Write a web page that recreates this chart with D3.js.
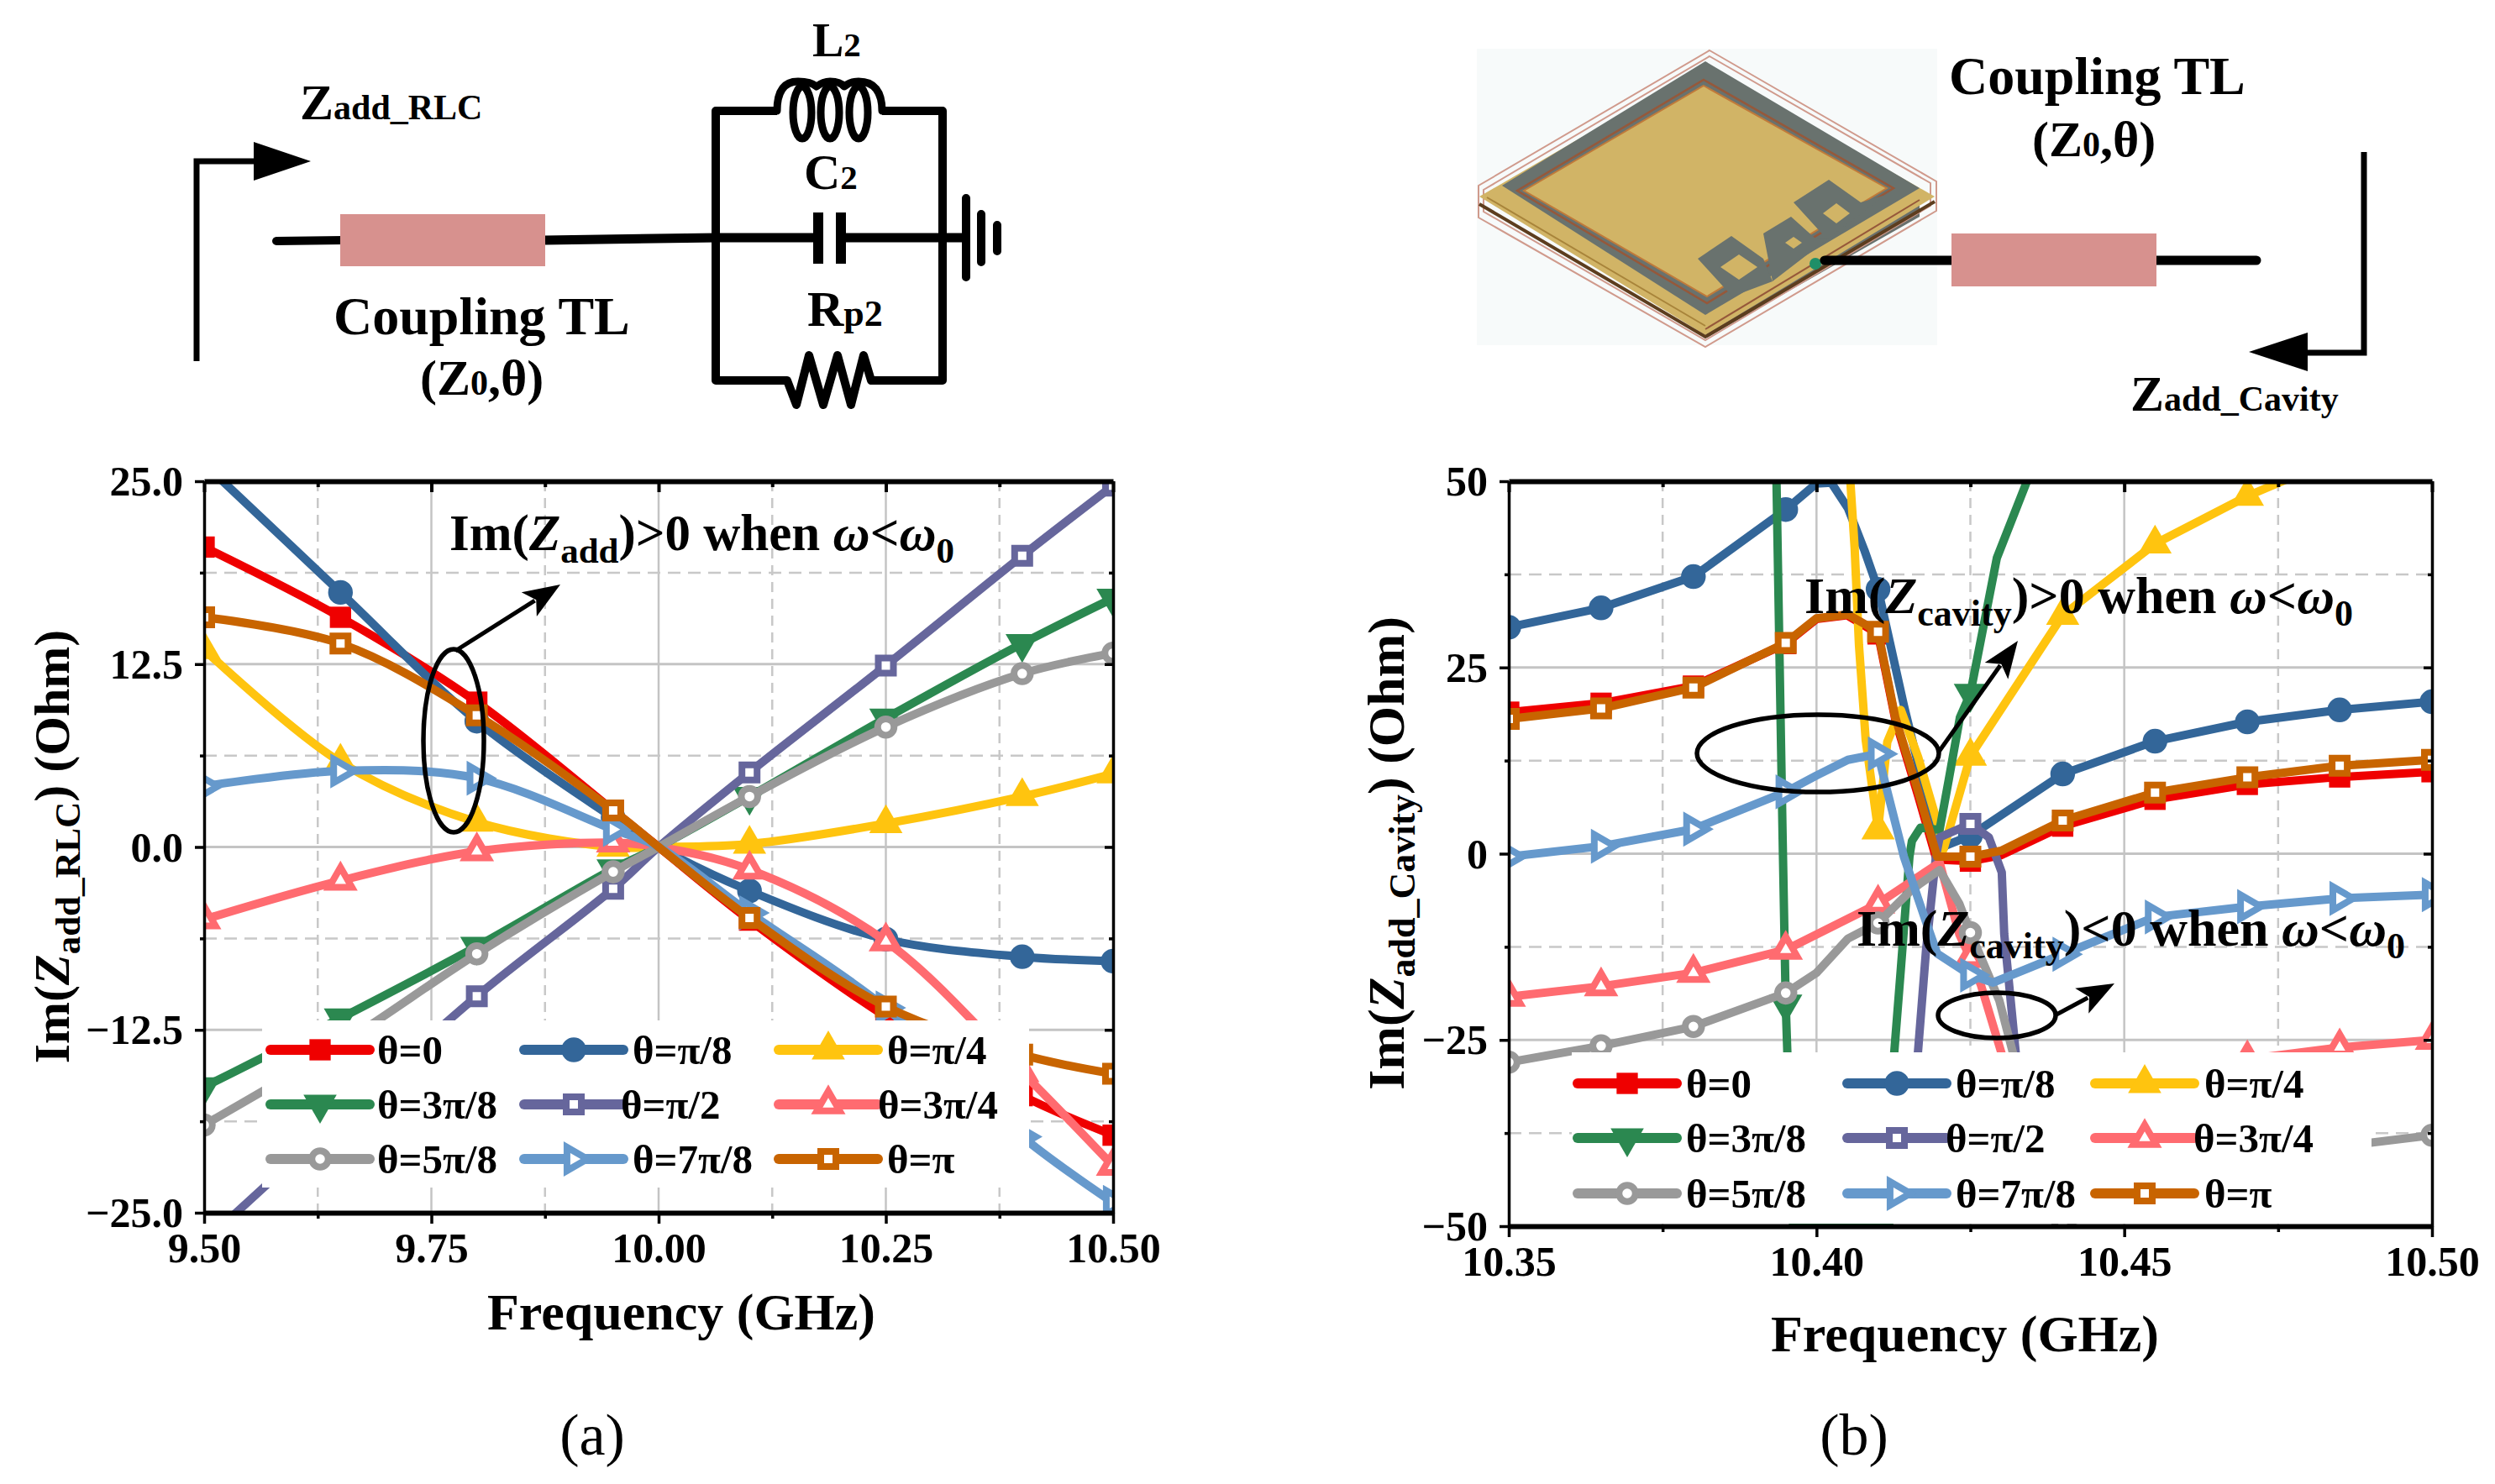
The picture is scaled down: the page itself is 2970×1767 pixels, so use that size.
<!DOCTYPE html>
<html><head><meta charset="utf-8">
<script src="https://cdnjs.cloudflare.com/ajax/libs/d3/7.8.5/d3.min.js"></script>
<style>html,body{margin:0;padding:0;background:#fff}svg{display:block}
text{font-family:"Liberation Serif","Times New Roman",serif;fill:#000}</style></head><body>
<svg id="c" width="2970" height="1767" viewBox="0 0 2970 1767"></svg>
<script>
// ---------- Panel (a) data ----------
const freqA = [9.5,9.65,9.8,9.95,10,10.1,10.25,10.4,10.5];
const a0     = [20.5,15.7,9.9,2.5,0,-5.0,-11.6,-17.0,-19.7];
const aPi8   = [26.2,17.4,8.6,2.0,0,-3.0,-6.3,-7.5,-7.8];
const aPi4   = [13.5,5.8,1.7,0.0,0,0.2,1.6,3.45,5.0];
const a3Pi8  = [-16.4,-11.7,-6.8,-1.5,0,3.45,8.8,13.9,17.0];
const aPi2   = [-27,-18.5,-10.2,-2.85,0,5.1,12.4,19.9,24.7];
const a3Pi4  = [-4.95,-2.3,-0.3,0.3,0,-1.55,-6.45,-15.4,-21.8];
const a5Pi8  = [-19.0,-13.5,-7.3,-1.7,0,3.45,8.2,11.85,13.25];
const a7Pi8  = [4.15,5.2,4.7,1.2,0,-4.5,-11.0,-19.8,-24.3];
const aPi    = [15.7,13.9,9.0,2.5,0,-4.85,-10.9,-14.2,-15.5];
const markerFreqA = [9.5,9.65,9.8,9.95,10.1,10.25,10.4,10.5];

// ---------- Panel (b) data ----------
const markerFreqB = [10.35,10.365,10.38,10.395,10.41,10.425,10.44,10.455,10.47,10.485,10.5];
const f0B = [10.35,10.365,10.38,10.395,10.4,10.405,10.41,10.4128,10.4165,10.4195,10.425,10.43,10.44,10.455,10.47,10.485,10.5];
const b0  = [19,20.2,22.5,28.2,31.5,32,29.5,18,7.8,-0.8,-1,-0.2,3.7,7.3,9.3,10.3,11];
const fPi8B = [10.35,10.365,10.38,10.395,10.4,10.4024,10.4051,10.4078,10.41,10.4142,10.42,10.421,10.425,10.44,10.455,10.47,10.485,10.5];
const bPi8  = [30.4,33,37.2,46.2,49.7,49.8,46.4,40.7,35.5,19.9,0.1,1.1,2.4,10.7,15.1,17.7,19.3,20.4];
const fPi4B = [10.4055,10.4062,10.4069,10.408,10.41,10.4115,10.4137,10.4165,10.4198,10.4206,10.425,10.44,10.455,10.47,10.4785];
const bPi4  = [50,41,28,15.2,3.2,15,19.3,13,3.7,0.5,13.1,32,41.6,48,51];
const f3Pi8B = [10.392,10.3935,10.3945,10.395,10.3962,10.4118,10.4126,10.4137,10.4151,10.4155,10.4169,10.42,10.4215,10.4233,10.425,10.4293,10.4342];
const b3Pi8  = [75,50,2,-20.2,-50,-50,-27,-15.5,-0.4,1.7,3.5,3.2,10,18.3,21.5,39.7,50];
const fPi2B = [10.415,10.41645,10.4178,10.4194,10.42,10.425,10.428,10.4301,10.4305,10.4317,10.4324,10.434];
const bPi2  = [-45,-27,-12.9,-0.4,2.2,4,2.2,-2.5,-10.8,-21,-27,-45];
const f3Pi4B = [10.35,10.365,10.38,10.395,10.41,10.42,10.4232,10.425,10.4267,10.4301,10.44,10.455,10.47,10.485,10.5];
const b3Pi4  = [-19.2,-17.8,-16.0,-12.9,-6.7,-1.2,-10.8,-14,-17.6,-26.9,-45,-33,-27.6,-26,-25];
const f5Pi8B = [10.35,10.365,10.38,10.395,10.4,10.4051,10.41,10.4155,10.42,10.4232,10.425,10.4297,10.432,10.44,10.455,10.47,10.485,10.5];
const b5Pi8  = [-28,-25.8,-23.2,-18.7,-16,-11.4,-9.3,-4.8,-2.2,-6.7,-10.6,-19.7,-27,-50,-44,-41,-39.3,-37.8];
const f7Pi8B = [10.35,10.365,10.38,10.395,10.4,10.4051,10.41,10.411,10.4142,10.4174,10.4196,10.425,10.4287,10.44,10.455,10.47,10.485,10.5];
const b7Pi8  = [-0.4,1,3.3,8.3,10.5,12.6,13.4,10,-0.4,-8.2,-13.4,-16.3,-17.3,-13.5,-8.5,-7.1,-6,-5.5];
const fPiB = [10.35,10.365,10.38,10.395,10.4,10.4051,10.41,10.4128,10.4165,10.4196,10.425,10.43,10.44,10.455,10.47,10.485,10.5];
const bPi  = [18.1,19.5,22.3,28.3,31.6,32.1,29.8,18.3,8.4,-0.4,-0.4,0.4,4.45,8.2,10.25,11.8,12.6];

// ---------- Labels and style tables ----------
const labels = ["θ=0","θ=π/8","θ=π/4","θ=3π/8","θ=π/2","θ=3π/4","θ=5π/8","θ=7π/8","θ=π"];
const colors = ["#ef0000","#336699","#ffc40f","#2b8850","#66669c","#ff6b70","#999999","#6699cc","#c86400"];
const shapes = ["square","circle","up","down","osquare","oup","ocircle","oright","osquare"];
const xTicksA = ["9.50","9.75","10.00","10.25","10.50"];
const yTicksA = ["25.0","12.5","0.0","−12.5","−25.0"];
const xTicksB = ["10.35","10.40","10.45","10.50"];
const yTicksB = ["50","25","0","−25","−50"];

const svg = d3.select("#c");
svg.append("rect").attr("width",2970).attr("height",1767).attr("fill","#fff");
const F = "Liberation Serif";

function txt(g,x,y,size,parts,opt={}){
  const t = g.append("text").attr("x",x).attr("y",y).attr("font-size",size)
    .attr("font-weight",opt.weight||"bold").attr("text-anchor",opt.anchor||"start");
  if(opt.rotate) t.attr("transform",`rotate(${opt.rotate} ${x} ${y})`);
  let shift=0;
  (Array.isArray(parts)?parts:[parts]).forEach(p=>{
    if(typeof p==="string") p={t:p};
    const sz=p.size||size, base=p.dy||0;
    t.append("tspan").attr("dy",base-shift).attr("font-size",sz)
      .attr("font-style",p.i?"italic":"normal").text(p.t);
    shift=base;
  });
  return t;
}

function marker(g,shape,color,x,y){
  const s = g.append("path");
  const open = shape[0]==="o";
  const kind = open?shape.slice(1):shape;
  let sym,area,rot=0;
  if(kind==="square"){sym=d3.symbolSquare;area=open?324:640;}
  if(kind==="circle"){sym=d3.symbolCircle;area=open?300:680;}
  if(kind==="up"){sym=d3.symbolTriangle;area=open?320:680;}
  if(kind==="down"){sym=d3.symbolTriangle;area=680;rot=180;}
  if(kind==="right"){sym=d3.symbolTriangle;area=340;rot=90;}
  s.attr("d",d3.symbol().type(sym).size(area)());
  s.attr("transform",`translate(${x},${y}) rotate(${rot})`);
  s.attr("fill",open?"#fff":color).attr("stroke",color).attr("stroke-width",open?8:0)
   .attr("stroke-linejoin","miter");
}

function panel(o){
  const g = svg.append("g");
  const x = d3.scaleLinear().domain(o.xd).range([o.l,o.r]);
  const y = d3.scaleLinear().domain(o.yd).range([o.b,o.t]);
  const id = "clip"+o.name;
  svg.append("clipPath").attr("id",id).append("rect")
    .attr("x",o.l).attr("y",o.t).attr("width",o.r-o.l).attr("height",o.b-o.t);

  // grids
  const gg = g.append("g");
  o.xGrid.forEach(v=>{ if(v===o.xd[0]||v===o.xd[1])return;
    const major = o.xMajor.includes(v);
    gg.append("line").attr("x1",x(v)).attr("x2",x(v)).attr("y1",o.t).attr("y2",o.b)
      .attr("stroke",major?"#c4c4c4":"#c8c8c8").attr("stroke-width",major?2.5:2.5)
      .attr("stroke-dasharray",major?null:"12 8");
  });
  o.yGrid.forEach(v=>{ if(v===o.yd[0]||v===o.yd[1])return;
    const major = o.yMajor.includes(v);
    gg.append("line").attr("x1",o.l).attr("x2",o.r).attr("y1",y(v)).attr("y2",y(v))
      .attr("stroke",major?"#c4c4c4":"#c8c8c8").attr("stroke-width",major?3:2.5)
      .attr("stroke-dasharray",major?null:"15 9");
  });

  // series
  const cg = g.append("g").attr("clip-path",`url(#${id})`);
  const line = d3.line().x(d=>x(d[0])).y(d=>y(d[1])).curve(o.curve);
  o.series.forEach((s,i)=>{
    const pts = d3.zip(s.f,s.v);
    cg.append("path").attr("d",line(pts)).attr("fill","none").attr("stroke",colors[i])
      .attr("stroke-width",o.lw).attr("stroke-linejoin","round");
    pts.filter(p=>o.markers.includes(p[0])).forEach(p=>marker(cg,shapes[i],colors[i],x(p[0]),y(p[1])));
  });

  // legend
  const lg = g.append("g");
  lg.append("rect").attr("x",o.leg.x).attr("y",o.leg.y).attr("width",o.leg.w).attr("height",o.leg.h).attr("fill","#fff");
  labels.forEach((lab,i)=>{
    const c=i%3,r=Math.floor(i/3),ly=o.leg.rows[r],x0=o.leg.cols[c];
    lg.append("line").attr("x1",x0).attr("x2",x0+o.leg.len).attr("y1",ly).attr("y2",ly)
      .attr("stroke",colors[i]).attr("stroke-width",12).attr("stroke-linecap","round");
    marker(lg,shapes[i],colors[i],x0+o.leg.len/2,ly);
    const tx = o.leg.text[c] - ((r===1&&c>0)?o.leg.shift[c]:0);
    txt(lg,tx,ly+17,o.leg.fs,lab);
  });

  // axes through d3
  const ax = g.append("g");
  const bottom = ax.append("g").attr("transform",`translate(0,${o.b})`)
    .call(d3.axisBottom(x).tickValues(o.xGrid).tickSizeOuter(0).tickSize(0).tickFormat(v=>{const k=o.xMajor.indexOf(v);return k<0?"":o.xLabels[k];}));
  const top = ax.append("g").attr("transform",`translate(0,${o.t})`)
    .call(d3.axisTop(x).tickValues(o.xGrid).tickSizeOuter(0).tickSize(0).tickFormat(""));
  const left = ax.append("g").attr("transform",`translate(${o.l},0)`)
    .call(d3.axisLeft(y).tickValues(o.yGrid).tickSizeOuter(0).tickSize(0).tickFormat(v=>{const k=o.yMajor.indexOf(v);return k<0?"":o.yLabels[k];}));
  const right = ax.append("g").attr("transform",`translate(${o.r},0)`)
    .call(d3.axisRight(y).tickValues(o.yGrid).tickSizeOuter(0).tickSize(0).tickFormat(""));
  [bottom,top].forEach(a=>a.select(".domain").attr("stroke","#000").attr("stroke-width",6));
  [left,right].forEach(a=>a.select(".domain").attr("stroke","#000").attr("stroke-width",3.5));
  bottom.selectAll(".tick line").attr("y2",v=>o.xMajor.includes(v)?13:7).attr("stroke","#000").attr("stroke-width",3.5);
  top.selectAll(".tick line").attr("y2",v=>o.xMajor.includes(v)?13:7).attr("stroke","#000").attr("stroke-width",4);
  left.selectAll(".tick line").attr("x2",v=>o.yMajor.includes(v)?-11:-5).attr("stroke","#000").attr("stroke-width",3.5);
  right.selectAll(".tick line").attr("x2",v=>o.yMajor.includes(v)?-10:-5).attr("stroke","#000").attr("stroke-width",3.5);
  bottom.selectAll(".tick text").attr("y",null).attr("dy",null).attr("transform","translate(0,59)")
    .attr("font-family",F).attr("font-size",o.tfs).attr("font-weight","bold").attr("fill","#000");
  left.selectAll(".tick text").attr("x",-25).attr("dy",o.tfs*0.33)
    .attr("font-family",F).attr("font-size",o.tfs).attr("font-weight","bold").attr("fill","#000");
  return {x,y,g};
}

function arrow(g,x1,y1,x2,y2,hl=44,hw=17){
  const a=Math.atan2(y2-y1,x2-x1),cx=Math.cos(a),sx=Math.sin(a);
  const bx=x2-hl*cx,by=y2-hl*sx;
  g.append("line").attr("x1",x1).attr("y1",y1).attr("x2",bx+8*cx).attr("y2",by+8*sx).attr("stroke","#000").attr("stroke-width",5);
  g.append("path").attr("fill","#000").attr("d",`M${x2},${y2}L${bx-hw*sx},${by+hw*cx}L${bx+10*cx},${by+10*sx}L${bx+hw*sx},${by-hw*cx}Z`);
}
function ell(g,cx,cy,rx,ry){g.append("ellipse").attr("cx",cx).attr("cy",cy).attr("rx",rx).attr("ry",ry)
  .attr("fill","none").attr("stroke","#000").attr("stroke-width",5.5);}

// ---------- Panel a ----------
const valsA=[a0,aPi8,aPi4,a3Pi8,aPi2,a3Pi4,a5Pi8,a7Pi8,aPi];
const pa = panel({name:"a",l:243,r:1325,t:573,b:1444,xd:[9.5,10.5],yd:[-25,25],lw:10,
  curve:d3.curveCatmullRom.alpha(0.5),
  series:valsA.map(v=>({f:freqA,v})),markers:markerFreqA,
  xGrid:[9.5,9.625,9.75,9.875,10,10.125,10.25,10.375,10.5],xMajor:[9.5,9.75,10,10.25,10.5],xLabels:xTicksA,
  yGrid:[-25,-18.75,-12.5,-6.25,0,6.25,12.5,18.75,25],yMajor:[25,12.5,0,-12.5,-25],yLabels:yTicksA,tfs:50,
  leg:{x:312,y:1215,w:913,h:199,rows:[1250,1315,1380],cols:[322,624,927],len:118,text:[449,753,1056],shift:[0,14,11],fs:49}});
txt(pa.g,535,655,61,["Im(",{t:"Z",i:1},{t:"add",dy:15,size:43},{t:")>0 when "},{t:"ω",i:1},"<",{t:"ω",i:1},{t:"0",dy:15,size:43}]);
ell(pa.g,540,882,36,109);
arrow(pa.g,542,775,667,696);
txt(pa.g,82,1008,60,["Im(",{t:"Z",i:1},{t:"add_RLC",dy:13,size:43},{t:") (Ohm)"}],{anchor:"middle",rotate:-90});
txt(pa.g,811,1583,62,"Frequency (GHz)",{anchor:"middle"});
txt(svg,705,1732,70,"(a)",{anchor:"middle",weight:"normal"});

// ---------- Panel b ----------
const seriesB=[{f:f0B,v:b0},{f:fPi8B,v:bPi8},{f:fPi4B,v:bPi4},{f:f3Pi8B,v:b3Pi8},{f:fPi2B,v:bPi2},{f:f3Pi4B,v:b3Pi4},{f:f5Pi8B,v:b5Pi8},{f:f7Pi8B,v:b7Pi8},{f:fPiB,v:bPi}];
const pb = panel({name:"b",l:1796,r:2895,t:573,b:1460,xd:[10.35,10.5],yd:[-50,50],lw:10,
  curve:d3.curveLinear,series:seriesB,markers:markerFreqB,
  xGrid:[10.35,10.375,10.4,10.425,10.45,10.475,10.5],xMajor:[10.35,10.4,10.45,10.5],xLabels:xTicksB,
  yGrid:[-50,-37.5,-25,-12.5,0,12.5,25,37.5,50],yMajor:[50,25,0,-25,-50],yLabels:yTicksB,tfs:50,
  leg:{x:1871,y:1253,w:952,h:204,rows:[1290,1355,1421],cols:[1878,2199,2494],len:118,text:[2007,2328,2624],shift:[0,12,13],fs:49}});
txt(pb.g,2148,730,62,["Im(",{t:"Z",i:1},{t:"cavity",dy:15,size:44},{t:")>0 when "},{t:"ω",i:1},"<",{t:"ω",i:1},{t:"0",dy:15,size:44}]);
txt(pb.g,2210,1126,62,["Im(",{t:"Z",i:1},{t:"cavity",dy:15,size:44},{t:")<0 when "},{t:"ω",i:1},"<",{t:"ω",i:1},{t:"0",dy:15,size:44}]);
ell(pb.g,2164,897,144,46);
arrow(pb.g,2308,895,2402,763);
ell(pb.g,2377,1209,70,27);
arrow(pb.g,2448,1208,2517,1171);
txt(pb.g,1671,1016,62,["Im(",{t:"Z",i:1},{t:"add_Cavity",dy:13,size:44},{t:") (Ohm)"}],{anchor:"middle",rotate:-90});
txt(pb.g,2339,1609,62,"Frequency (GHz)",{anchor:"middle"});
txt(svg,2207,1732,70,"(b)",{anchor:"middle",weight:"normal"});

// ---------- Schematic (a) ----------
const sa = svg.append("g").attr("fill","none").attr("stroke","#000").attr("stroke-linecap","round").attr("stroke-linejoin","round");
sa.append("path").attr("d","M234,430V192H305").attr("stroke-width",7).attr("stroke-linecap","butt").attr("stroke-linejoin","miter");
svg.append("path").attr("d","M302,169L370,192L302,215Z").attr("fill","#000");
sa.append("path").attr("d","M329,287L409,286").attr("stroke-width",10);
sa.append("path").attr("d","M649,286L853,283H974M1001,283H1150").attr("stroke-width",11).attr("stroke-linecap","butt");
svg.append("rect").attr("x",405).attr("y",255).attr("width",244).attr("height",62).attr("fill","#d7918e");
sa.append("path").attr("d","M925,132H852V453H937M1037,453H1122V132H1050").attr("stroke-width",10).attr("stroke-linecap","butt");
sa.append("path").attr("d","M925,132Q925,97 950,97Q965,97 972,103Q980,97 988,97Q1000,97 1005,103Q1012,97 1022,97Q1050,97 1050,132").attr("stroke-width",9);
[955,988,1022].forEach(cx=>sa.append("ellipse").attr("cx",cx).attr("cy",134).attr("rx",11).attr("ry",31).attr("stroke-width",9));
sa.append("path").attr("d","M974,253V314M1001,253V314").attr("stroke-width",12).attr("stroke-linecap","butt");
sa.append("path").attr("d","M1150,236V330M1168,255V312M1187,268V299").attr("stroke-width",10);
sa.append("path").attr("d","M937,453L948,482L963,423L980,482L997,423L1013,482L1028,423L1037,453").attr("stroke-width",10);
txt(svg,967,67,56,["L",{t:"2",size:41}]);
txt(svg,957,225,60,["C",{t:"2",size:41}]);
txt(svg,961,388,60,["R",{t:"p2",size:44}]);
txt(svg,357,142,60,["Z",{t:"add_RLC",size:42}]);
txt(svg,397,398,64,"Coupling TL");
txt(svg,500,470,60,["(Z",{t:"0",size:42},",θ)"]);

// ---------- Schematic (b) ----------
const sb = svg.append("g");
const dia=(c)=>c.map(p=>p.join(",")).join(" ");
sb.append("rect").attr("x",1758).attr("y",58).attr("width",548).attr("height",353).attr("fill","#f7fafa");
sb.append("polygon").attr("points",dia([[2032,402],[2285,258],[2285,235],[1790,235],[2032,388]])).attr("fill","#69706c");
[[[2035,60],[2305,216],[2305,251],[2030,413],[1760,259],[1760,221]],
 [[2035,67],[2298,218],[2298,245],[2030,405],[1766,252],[1766,226]]].forEach(p=>
  sb.append("polygon").attr("points",dia(p)).attr("fill","none").attr("stroke","#d09a8c").attr("stroke-width",2));
sb.append("polygon").attr("points",dia([[2030,78],[2303,234],[2030,399],[1761,234]])).attr("fill","#d1b466");
sb.append("path").attr("d","M1761,243L2030,401L2303,240").attr("fill","none").attr("stroke","#5c3d1e").attr("stroke-width",4);
sb.append("path").attr("d","M1770,235L2030,388").attr("fill","none").attr("stroke","#a8843a").attr("stroke-width",2);
sb.append("polygon").attr("points",dia([[2030,73],[2285,224],[2030,375],[1788,221]])).attr("fill","#69726e");
sb.append("polygon").attr("points",dia([[2028,95],[2254,224],[2032,361],[1806,227]])).attr("fill","none").attr("stroke","#96583a").attr("stroke-width",2.5);
sb.append("polygon").attr("points",dia([[2028,102],[2246,224],[2032,353],[1814,227]])).attr("fill","#d1b466").attr("stroke","#c07a3a").attr("stroke-width",2);
[[[2177,214],[2215,241],[2245,232],[2175,285],[2135,241]],
 [[2132,258],[2161,284],[2175,285],[2110,335],[2099,278]],
 [[2061,281],[2099,308],[2110,335],[2062,353],[2021,308]]].forEach(p=>
  sb.append("polygon").attr("points",dia(p)).attr("fill","#69726e"));
[[2186,254,16,12],[2135,289,10,7],[2070,318,22,15]].forEach(b=>
  sb.append("polygon").attr("points",dia([[b[0],b[1]-b[3]],[b[0]+b[2],b[1]],[b[0],b[1]+b[3]],[b[0]-b[2],b[1]]])).attr("fill","#d1b466"));
sb.append("path").attr("d","M2030,392L2285,238").attr("fill","none").attr("stroke","#96583a").attr("stroke-width",2);
sb.append("circle").attr("cx",2161).attr("cy",314).attr("r",7).attr("fill","#1f8f68");
sb.append("path").attr("d","M2172,310H2325M2564,310H2686").attr("stroke","#000").attr("stroke-width",11).attr("stroke-linecap","round");
sb.append("rect").attr("x",2323).attr("y",278).attr("width",244).attr("height",63).attr("fill","#d7918e");
sb.append("path").attr("d","M2814,181V420H2745").attr("fill","none").attr("stroke","#000").attr("stroke-width",7);
sb.append("path").attr("d","M2747,396L2677,419L2747,442Z").attr("fill","#000");
txt(svg,2320,112,64,"Coupling TL");
txt(svg,2419,186,60,["(Z",{t:"0",size:42},",θ)"]);
txt(svg,2536,489,60,["Z",{t:"add_Cavity",size:42}]);
</script></body></html>
